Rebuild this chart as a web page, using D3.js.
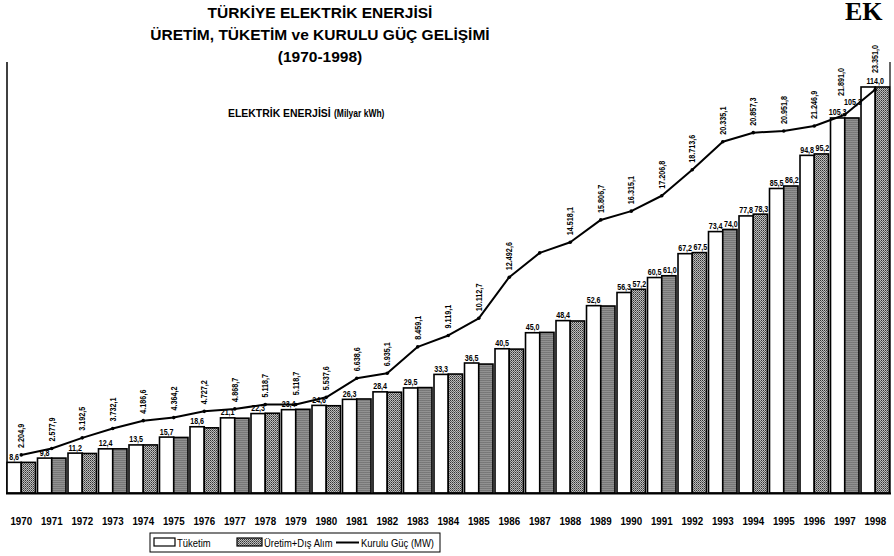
<!DOCTYPE html>
<html>
<head>
<meta charset="utf-8">
<script src="https://cdn.jsdelivr.net/npm/d3@7"></script>
<style>
  body { margin: 0; background: #fff; }
  svg { display: block; font-family: 'Liberation Sans', Arial, sans-serif; }
</style>
</head>
<body>
<div id="chart"></div>
<script>
// years on the x axis
const years = d3.range(1970, 1999);

// Tüketim (billion kWh)
const tuketim = [8.6, 9.8, 11.2, 12.4, 13.5, 15.7, 18.6, 21.1, 22.3, 23.4,
                 24.6, 26.3, 28.4, 29.5, 33.3, 36.5, 40.5, 45.0, 48.4, 52.6,
                 56.3, 60.5, 67.2, 73.4, 77.8, 85.5, 94.8, 105.3, 114.0];

// Üretim + Dış Alım (billion kWh)
const uretim = [8.6, 9.8, 11.1, 12.4, 13.5, 15.6, 18.3, 21.0, 22.4, 23.5,
                24.5, 26.4, 28.3, 29.6, 33.4, 36.2, 40.4, 45.1, 48.3, 52.5,
                57.2, 61.0, 67.5, 74.0, 78.3, 86.2, 95.2, 105.3, 114.0];

// Kurulu Güç (MW)
const kuruluGuc = [2204.9, 2577.9, 3192.5, 3732.1, 4186.6, 4364.2, 4727.2, 4868.7, 5118.7, 5118.7,
                   5537.6, 6638.6, 6935.1, 8459.1, 9119.1, 10112.7, 12492.6, 13900, 14518.1, 15806.7,
                   16315.1, 17206.8, 18713.6, 20335.1, 20857.3, 20951.8, 21246.9, 21891.0, 23351.0];

// which labels are printed
const kuruluGucUnlabeled = [1987];
const uretimLabelYears = [1990, 1991, 1992, 1993, 1994, 1995, 1996, 1997];
const centeredLabelYears = [1998];

const titleLines = ["TÜRKİYE ELEKTRİK ENERJİSİ", "ÜRETİM, TÜKETİM ve KURULU GÜÇ GELİŞİMİ", "(1970-1998)"];
const seriesNames = ["Tüketim", "Üretim+Dış Alım", "Kurulu Güç (MW)"];

const W = 894, H = 556;
const baseY = 493, topY = 30;

const tr = d3.formatLocale({decimal: ",", thousands: ".", grouping: [3], currency: ["", ""]});
const fmtMW = tr.format(",.1f");
const fmtE = tr.format(".1f");

const svg = d3.select("#chart").append("svg")
  .attr("width", W).attr("height", H);

// dotted fill for the Üretim bars
const pat = svg.append("defs").append("pattern")
  .attr("id", "dots").attr("width", 2).attr("height", 2)
  .attr("patternUnits", "userSpaceOnUse");
pat.append("rect").attr("width", 2).attr("height", 2).attr("fill", "#bdbdbd");
pat.append("rect").attr("width", 1).attr("height", 1).attr("fill", "#333");
pat.append("rect").attr("x", 1).attr("y", 1).attr("width", 1).attr("height", 1).attr("fill", "#666");

const x = d3.scaleBand().domain(years).range([7, 889.5]).paddingInner(0.066).paddingOuter(0);
const xs = d3.scaleBand().domain(["t", "u"]).range([0, x.bandwidth()]);
const yE = d3.scaleLinear().domain([0, 130]).range([baseY, topY]);
const yP = d3.scaleLinear().domain([0, 26800]).range([baseY, topY]);

const rows = years.map((yr, i) => ({yr, t: tuketim[i], u: uretim[i], p: kuruluGuc[i]}));

// the scan uses a narrow font, so squeeze text horizontally
function narrowText(parent, px, py, str, opts) {
  const o = Object.assign({size: 10, bold: true, sx: 0.8, rot: 0, anchor: "start"}, opts);
  const g = parent.append("g")
    .attr("transform", "translate(" + px + "," + py + ")" + (o.rot ? " rotate(" + o.rot + ")" : "") + " scale(" + o.sx + ",1)");
  return g.append("text")
    .attr("text-anchor", o.anchor)
    .attr("fill", "#000")
    .style("font-size", o.size + "px")
    .style("font-weight", o.bold ? "bold" : "normal")
    .text(str);
}

// titles
titleLines.forEach((t, i) => narrowText(svg, 320, 18 + i * 22, t, {size: 15.5, sx: 1.0, anchor: "middle"}));

svg.append("text").attr("x", 845).attr("y", 20)
  .style("font-family", "'Liberation Serif', 'DejaVu Serif', serif")
  .style("font-weight", "bold").style("font-size", "26px")
  .text("EK");

const subG = svg.append("g");
narrowText(subG, 228, 117, "ELEKTRİK ENERJİSİ", {size: 11, sx: 0.95});
narrowText(subG, 334, 117, "(Milyar kWh)", {size: 10, sx: 0.85});

// side frame lines
svg.append("line").attr("x1", 7).attr("x2", 7).attr("y1", 62).attr("y2", baseY)
  .attr("stroke", "#000").attr("stroke-width", 1.5);
svg.append("line").attr("x1", 890).attr("x2", 890).attr("y1", 62).attr("y2", baseY)
  .attr("stroke", "#000").attr("stroke-width", 1.2);

// bars
const grp = svg.append("g").selectAll("g").data(rows).enter().append("g")
  .attr("transform", d => "translate(" + x(d.yr) + ",0)");

grp.append("rect")
  .attr("x", xs("t")).attr("width", xs.bandwidth())
  .attr("y", d => yE(d.t)).attr("height", d => baseY - yE(d.t))
  .attr("fill", "#fff").attr("stroke", "#000").attr("stroke-width", 1.6);

grp.append("rect")
  .attr("x", xs("u")).attr("width", xs.bandwidth())
  .attr("y", d => yE(d.u)).attr("height", d => baseY - yE(d.u))
  .attr("fill", "url(#dots)").attr("stroke", "#000").attr("stroke-width", 1.6);

// x axis (years)
const xAxis = svg.append("g").attr("transform", "translate(0," + baseY + ")")
  .call(d3.axisBottom(x).tickSize(0).tickFormat(""));
xAxis.select(".domain").attr("stroke", "#000").attr("stroke-width", 2)
  .attr("d", "M6,0.5H891");
xAxis.selectAll(".tick").each(function(d) {
  narrowText(d3.select(this), 0, 32, String(d), {size: 11.5, sx: 0.85, anchor: "middle"});
});

// installed capacity line
const cx = d => x(d.yr) + x.bandwidth() / 2;
svg.append("path").datum(rows)
  .attr("fill", "none").attr("stroke", "#000").attr("stroke-width", 2)
  .attr("stroke-linejoin", "round")
  .attr("d", d3.line().x(cx).y(d => yP(d.p)));

svg.append("g").selectAll("circle").data(rows).enter().append("circle")
  .attr("cx", cx).attr("cy", d => yP(d.p)).attr("r", 1.8).attr("fill", "#000");

// bar value labels
const lblG = svg.append("g");
rows.forEach(d => {
  const tx = x(d.yr) + (centeredLabelYears.includes(d.yr) ? x.bandwidth() / 2 : xs("t") + xs.bandwidth() / 2);
  narrowText(lblG, tx, yE(d.t) - 2.5, fmtE(d.t), {size: 9.5, sx: 0.75, anchor: "middle"});
  if (uretimLabelYears.includes(d.yr)) {
    // when both bars are level, the second label is lifted as in the scan
    const lift = Math.abs(d.u - d.t) < 0.05 ? 10 : 0;
    narrowText(lblG, x(d.yr) + xs("u") + xs.bandwidth() / 2 + 1, yE(d.u) - 2.5 - lift, fmtE(d.u), {size: 9.5, sx: 0.75, anchor: "middle"});
  }
});

// installed capacity labels, vertical
const capG = svg.append("g");
rows.filter(d => !kuruluGucUnlabeled.includes(d.yr)).forEach(d => {
  const ly = Math.min(yP(d.p) - 7, Math.min(yE(d.t), yE(d.u)) - 14);
  const dx = d.yr === 1997 ? -4 : 0;
  narrowText(capG, cx(d) + 3 + dx, ly - (d.yr === 1997 ? 8 : 0), fmtMW(d.p), {size: 8.5, sx: 0.85, rot: -90});
});

// legend
const lg = svg.append("g").attr("transform", "translate(150,533)");
lg.append("rect").attr("width", 290).attr("height", 19)
  .attr("fill", "#fff").attr("stroke", "#000").attr("stroke-width", 1);
lg.append("rect").attr("x", 4).attr("y", 5).attr("width", 21).attr("height", 8)
  .attr("fill", "#fff").attr("stroke", "#000").attr("stroke-width", 1.2);
lg.append("rect").attr("x", 87).attr("y", 5).attr("width", 25).attr("height", 8)
  .attr("fill", "url(#dots)").attr("stroke", "#000").attr("stroke-width", 1.2);
lg.append("line").attr("x1", 186).attr("x2", 209).attr("y1", 9.5).attr("y2", 9.5)
  .attr("stroke", "#000").attr("stroke-width", 2);
seriesNames.forEach((s, i) => narrowText(lg, [27, 114, 211][i], 14, s, {size: 11, sx: 0.86, bold: false}));
</script>
</body>
</html>
